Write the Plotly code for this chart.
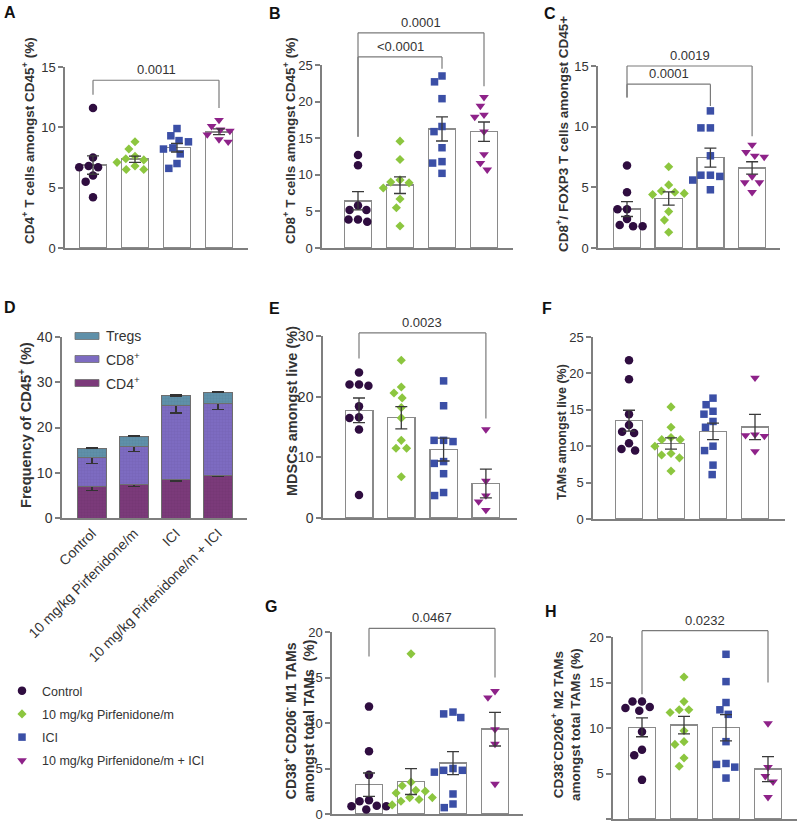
import plotly.graph_objects as go
import numpy as np

W, H = 797, 825

groups = ["Control", "10 mg/kg Pirfenidone/m", "ICI", "10 mg/kg Pirfenidone/m + ICI"]

# ---------------- data ----------------
A_ctrl = [11.6, 7.5, 6.8, 6.7, 6.7, 6.0, 5.5, 4.2]
A_pirf = [8.8, 8.2, 7.6, 7.4, 7.3, 7.1, 6.8, 6.5, 6.5]
A_ici = [9.9, 9.3, 8.9, 8.8, 8.3, 8.2, 7.8, 7.0, 6.6]
A_combo = [10.6, 10.1, 9.8, 9.7, 9.4, 9.0, 8.8]

B_ctrl = [12.7, 11.3, 5.8, 5.2, 5.2, 3.9, 3.9, 3.6]
B_pirf = [14.6, 12.1, 8.9, 9.3, 9.0, 8.2, 6.7, 5.5, 3.0]
B_ici = [23.5, 22.7, 20.4, 16.6, 15.9, 13.7, 11.8, 11.6, 10.2]
B_combo = [20.6, 19.4, 17.9, 18.2, 15.9, 12.8, 10.7, 11.6]

C_ctrl = [6.8, 4.6, 3.2, 3.2, 2.4, 1.8, 1.9, 1.8]
C_pirf = [6.7, 5.2, 4.7, 4.6, 4.5, 4.4, 3.0, 2.3, 1.3]
C_ici = [11.3, 9.9, 9.9, 7.6, 5.9, 6.0, 6.0, 5.6, 4.8]
C_combo = [8.5, 7.6, 7.9, 7.5, 5.9, 5.4, 5.4, 4.6]

D_cd4 = [6.9, 7.3, 8.5, 9.5]
D_cd4_err = [0.75, 0.25, 0.3, 0.25]
D_cd8 = [6.45, 8.6, 16.3, 15.9]
D_cd8_err = [1.25, 1.2, 1.6, 1.35]
D_treg = [2.1, 2.2, 2.2, 2.4]
D_treg_err = [0.15, 0.15, 0.2, 0.1]

E_ctrl = [24.0, 22.0, 21.8, 22.0, 18.4, 16.6, 16.5, 14.6, 3.8]
E_pirf = [26.0, 21.6, 20.6, 19.8, 18.2, 16.5, 12.8, 11.5, 11.5, 6.8]
E_ici = [22.6, 18.5, 12.8, 12.6, 12.8, 9.3, 9.0, 7.3, 4.2, 3.7]
E_combo = [14.6, 6.1, 3.7, 2.7, 1.3]

F_ctrl = [21.8, 19.2, 14.4, 12.9, 11.8, 12.0, 10.4, 9.6, 9.4]
F_pirf = [15.4, 12.6, 11.2, 10.9, 10.9, 10.0, 9.0, 8.8, 8.4, 6.6]
F_ici = [16.6, 15.7, 14.8, 14.4, 13.4, 12.6, 10.0, 9.4, 7.4, 6.1]
F_combo = [19.4, 11.6, 11.5, 11.4, 9.3]

G_ctrl = [11.8, 6.9, 4.3, 1.4, 1.5, 0.85, 0.85, 0.9, 0.5]
G_pirf = [17.6, 3.5, 3.1, 2.6, 2.5, 2.3, 1.8, 1.8, 1.6, 1.4, 1.0]
G_ici = [11.2, 11.0, 10.6, 5.0, 4.8, 4.8, 4.6, 2.2, 1.1, 0.7]
G_combo = [13.5, 12.8, 9.3, 7.7, 3.3]

H_ctrl = [12.9, 12.9, 12.3, 12.2, 11.9, 9.6, 7.6, 7.0, 4.3]
H_pirf = [15.6, 12.9, 12.0, 12.0, 11.7, 9.7, 8.5, 8.2, 6.7, 5.8]
H_ici = [18.1, 15.1, 12.8, 12.0, 11.5, 8.5, 6.1, 6.0, 5.7, 4.5]
H_combo = [10.5, 5.7, 4.7, 4.1, 2.4]

# p-value brackets: (group i, group j, bracket y, leg end y at i, leg end y at j, label)
A_brackets = [(0, 3, 13.9, 12.7, 11.6, "0.0011")]
B_brackets = [(0, 2, 26.1, 15.2, 24.5, "&lt;0.0001"), (0, 3, 29.4, 15.2, 22.1, "0.0001")]
C_brackets = [(0, 2, 13.5, 12.4, 11.7, "0.0001"), (0, 3, 15.0, 12.4, 9.2, "0.0019")]
E_brackets = [(0, 3, 30.5, 26.3, 16.4, "0.0023")]
G_brackets = [(0, 3, 20.4, 17.3, 15.0, "0.0467")]
H_brackets = [(0, 3, 20.7, 13.7, 15.0, "0.0232")]

# ---------------- styles ----------------
colors = ["#2f0d40", "#8cc63f", "#3b4fa6", "#8e2289"]
symbols = ["circle", "diamond", "square", "triangle-down"]
msizes = [8.5, 7, 7.5, 8.5]
FONT = "Liberation Sans, Arial, sans-serif"
AX = "#7f7f7f"
TXT = "#333333"

# panel geometry in pixels: axis left, axis right, y top (at ymax), y bottom (at 0), first bar centre, spacing
panels = {
    "A": dict(vals=[A_ctrl, A_pirf, A_ici, A_combo], ymax=15, dtick=5, g=(65, 248, 67, 248, 93, 42),
              title="<b>CD4<sup>+</sup> T cells amongst CD45<sup>+</sup> (%)</b>", tpos=(28, 141), tsize=13.5,
              tick=13, br=A_brackets, letter=(2, 2)),
    "B": dict(vals=[B_ctrl, B_pirf, B_ici, B_combo], ymax=25, dtick=5, g=(322, 513, 65, 248, 358, 42),
              title="<b>CD8<sup>+</sup> T cells amongst CD45<sup>+</sup> (%)</b>", tpos=(289, 141), tsize=13.5,
              tick=13, br=B_brackets, letter=(267, 3)),
    "C": dict(vals=[C_ctrl, C_pirf, C_ici, C_combo], ymax=15, dtick=5, g=(598, 780, 66, 248, 627, 41.7),
              title="<b>CD8<sup>+</sup>/ FOXP3 T cells amongst CD45+</b>", tpos=(562, 134), tsize=13.5,
              tick=13, br=C_brackets, letter=(542, 3)),
    "E": dict(vals=[E_ctrl, E_pirf, E_ici, E_combo], ymax=30, dtick=10, g=(323, 517, 336, 518, 359, 42.3),
              title="<b>MDSCs amongst live (%)</b>", tpos=(292, 411), tsize=14.5, tick=14,
              br=E_brackets, letter=(267, 298)),
    "F": dict(vals=[F_ctrl, F_pirf, F_ici, F_combo], ymax=25, dtick=5, g=(593, 785, 337, 519, 629, 42),
              title="<b>TAMs amongst live (%)</b>", tpos=(562, 432), tsize=12.5, tick=13,
              br=[], letter=(540, 298)),
    "G": dict(vals=[G_ctrl, G_pirf, G_ici, G_combo], ymax=20, dtick=5, g=(332, 523, 632, 814, 369, 42),
              title="<b>CD38<sup>+</sup> CD206<sup>-</sup> M1 TAMs<br>amongst total TAMs  (%)</b>", tpos=(299, 721),
              tsize=14, tick=13, br=G_brackets, letter=(263, 596)),
    "H": dict(vals=[H_ctrl, H_pirf, H_ici, H_combo], ymax=20, dtick=5, g=(613, 797, 637, 819, 642, 42),
              title="<b>CD38<sup>-</sup>CD206<sup>+</sup> M2 TAMs<br>amongst total TAMs (%)</b>", tpos=(565, 725),
              tsize=13.5, tick=13, br=H_brackets, letter=(543, 601)),
}
D_geom = (62, 247, 337, 518, 92, 42)


def swarm(vals, ppu_y, diam):
    idx = sorted(range(len(vals)), key=lambda i: -vals[i])
    placed, out = [], [0.0] * len(vals)
    for i in idx:
        y = vals[i] * ppu_y
        forb = []
        for xo, yo in placed:
            dy = abs(y - yo)
            if dy < diam:
                dx = (diam ** 2 - dy ** 2) ** 0.5
                forb.append((xo - dx, xo + dx))
        cands = [0.0] + [a for a, b in forb] + [b for a, b in forb]
        cands.sort(key=lambda c: (round(abs(c), 6), c))
        chosen = 0.0
        for c in cands:
            if all(not (a + 1e-6 < c < b - 1e-6) for a, b in forb):
                chosen = c
                break
        out[i] = chosen
        placed.append((chosen, y))
    return out


fig = go.Figure()
layout = dict(template="none", width=W, height=H, margin=dict(l=0, r=0, t=0, b=0, pad=0, autoexpand=False),
              paper_bgcolor="white", plot_bgcolor="rgba(0,0,0,0)", barmode="stack", showlegend=True,
              font=dict(family=FONT, color=TXT))
shapes, annots = [], []


def axes_for(k, geom, ymax, dtick, tick):
    x0, x1, yt, yb, c0, sp = geom
    xr = [(x0 - c0) / sp, (x1 - c0) / sp]
    xa = dict(domain=[x0 / W, x1 / W], range=xr, showline=True, linecolor=AX, linewidth=1.5, automargin=False,
              showgrid=False, zeroline=False, showticklabels=False, ticks="", anchor="y%d" % k if k > 1 else "y")
    ya = dict(domain=[1 - yb / H, 1 - yt / H], range=[0, ymax], dtick=dtick, showline=True, linecolor=AX,
              linewidth=1.5, ticks="outside", ticklen=5, tickcolor=AX, tickwidth=1.5, showgrid=False,
              zeroline=False, tickfont=dict(size=tick, color=TXT, family=FONT), automargin=False,
              anchor="x%d" % k if k > 1 else "x")
    return xa, ya


def px_x(geom, xc):
    x0, x1, yt, yb, c0, sp = geom
    return (c0 + xc * sp) / W


def px_y(geom, ymax, v):
    x0, x1, yt, yb, c0, sp = geom
    return 1 - (yb - v / ymax * (yb - yt)) / H


order = ["A", "B", "C", "D", "E", "F", "G", "H"]
for k, name in enumerate(order, start=1):
    xs = "x" if k == 1 else "x%d" % k
    ys = "y" if k == 1 else "y%d" % k
    if name == "D":
        geom = D_geom
        xa, ya = axes_for(k, geom, 40, 10, 14)
        xa.update(showticklabels=True, tickvals=[0, 1, 2, 3], ticktext=groups, tickangle=-45,
                  tickfont=dict(size=14, color=TXT, family=FONT))
        layout["xaxis" if k == 1 else "xaxis%d" % k] = xa
        layout["yaxis" if k == 1 else "yaxis%d" % k] = ya
        for vals, errs, col, nm in [(D_cd4, D_cd4_err, "#7b3a7a", "CD4"), (D_cd8, D_cd8_err, "#7d6bc1", "CD8"),
                                    (D_treg, D_treg_err, "#5f90a9", "Tregs")]:
            fig.add_trace(go.Bar(x=[0, 1, 2, 3], y=vals, width=0.67, xaxis=xs, yaxis=ys, showlegend=False,
                                 marker=dict(color=col, line=dict(color="#6e6e6e", width=1),
                                             pattern=dict(shape="+", size=3, solidity=0.15, fgcolor="#000000",
                                                          fgopacity=0.10, fillmode="overlay")),
                                 error_y=dict(type="data", array=errs, color="#333333", thickness=1.2, width=6)))
        # in-plot legend for D
        for (yy, col, lab) in [(336, "#5f90a9", "Tregs"), (359, "#7d6bc1", "CD8<sup>+</sup>"),
                               (383, "#7b3a7a", "CD4<sup>+</sup>")]:
            shapes.append(dict(type="rect", xref="paper", yref="paper", x0=75 / W, x1=99 / W,
                               y0=1 - (yy + 3.5) / H, y1=1 - (yy - 3.5) / H, fillcolor=col,
                               line=dict(color="#6e6e6e", width=0.8)))
            annots.append(dict(x=104 / W, y=1 - yy / H, xref="paper", yref="paper", text=lab, showarrow=False,
                               xanchor="left", yanchor="middle", font=dict(size=14, color=TXT, family=FONT)))
        annots.append(dict(x=25 / W, y=1 - 425 / H, xref="paper", yref="paper",
                           text="<b>Frequency of CD45<sup>+</sup> (%)</b>", textangle=-90, showarrow=False,
                           xanchor="center", yanchor="middle",
                           font=dict(size=14.6, color=TXT, family=FONT)))
        annots.append(dict(x=2 / W, y=1 - 297 / H, xref="paper", yref="paper", text="<b>D</b>", showarrow=False,
                           xanchor="left", yanchor="top", font=dict(size=16, color="#111", family=FONT)))
        continue

    p = panels[name]
    geom = p["g"]
    xa, ya = axes_for(k, geom, p["ymax"], p["dtick"], p["tick"])
    layout["xaxis" if k == 1 else "xaxis%d" % k] = xa
    layout["yaxis" if k == 1 else "yaxis%d" % k] = ya
    ppu_y = (geom[3] - geom[2]) / p["ymax"]
    sp = geom[5]
    means = [float(np.mean(v)) for v in p["vals"]]
    sems = [float(np.std(v, ddof=1) / np.sqrt(len(v))) for v in p["vals"]]
    fig.add_trace(go.Bar(x=[0, 1, 2, 3], y=means, width=0.65, xaxis=xs, yaxis=ys, showlegend=False,
                         marker=dict(color="white", line=dict(color="#8a8a8a", width=1.5))))
    for gi, vals in enumerate(p["vals"]):
        offs = swarm(vals, ppu_y, 9.5)
        fig.add_trace(go.Scatter(x=[gi + o / sp for o in offs], y=vals, mode="markers", xaxis=xs, yaxis=ys,
                                 name=groups[gi], legendgroup=groups[gi], showlegend=(name == "A"),
                                 cliponaxis=False,
                                 marker=dict(symbol=symbols[gi], color=colors[gi], size=msizes[gi],
                                             line=dict(width=0))))
    # error bars (mean +/- SEM) drawn over the points
    fig.add_trace(go.Scatter(x=[0, 1, 2, 3], y=means, mode="markers", xaxis=xs, yaxis=ys, showlegend=False,
                             marker=dict(size=0.1, color="rgba(0,0,0,0)"), cliponaxis=False,
                             error_y=dict(type="data", array=sems, color="#3a3a3a", thickness=1.3, width=6)))
    for (i, j, yl, li, lj, lab) in p["br"]:
        xi, xj = px_x(geom, i), px_x(geom, j)
        yy = px_y(geom, p["ymax"], yl)
        for (x0_, y0_, x1_, y1_) in [(xi, yy, xj, yy), (xi, px_y(geom, p["ymax"], li), xi, yy),
                                     (xj, px_y(geom, p["ymax"], lj), xj, yy)]:
            shapes.append(dict(type="line", xref="paper", yref="paper", x0=x0_, y0=y0_, x1=x1_, y1=y1_,
                               line=dict(color="#7a7a7a", width=1.2)))
        annots.append(dict(x=(xi + xj) / 2, y=yy, xref="paper", yref="paper", text=lab, showarrow=False,
                           xanchor="center", yanchor="bottom", yshift=1,
                           font=dict(size=13, color=TXT, family=FONT)))
    tx, ty = p["tpos"]
    annots.append(dict(x=tx / W, y=1 - ty / H, xref="paper", yref="paper", text=p["title"], textangle=-90,
                       showarrow=False, xanchor="center", yanchor="middle",
                       font=dict(size=p["tsize"], color=TXT, family=FONT)))
    lx, ly = p["letter"]
    annots.append(dict(x=lx / W, y=1 - ly / H, xref="paper", yref="paper", text="<b>%s</b>" % name,
                       showarrow=False, xanchor="left", yanchor="top",
                       font=dict(size=16, color="#111", family=FONT)))

layout["legend"] = dict(x=2 / W, y=1 - 676 / H, xanchor="left", yanchor="top", bgcolor="rgba(0,0,0,0)",
                        font=dict(size=12.5, color=TXT, family=FONT), tracegroupgap=4, itemwidth=30)
layout["shapes"] = shapes
layout["annotations"] = annots
fig.update_layout(**layout)
fig.write_html("out.html", config={"displayModeBar": False},
               post_script="document.body.style.margin='0px';")
